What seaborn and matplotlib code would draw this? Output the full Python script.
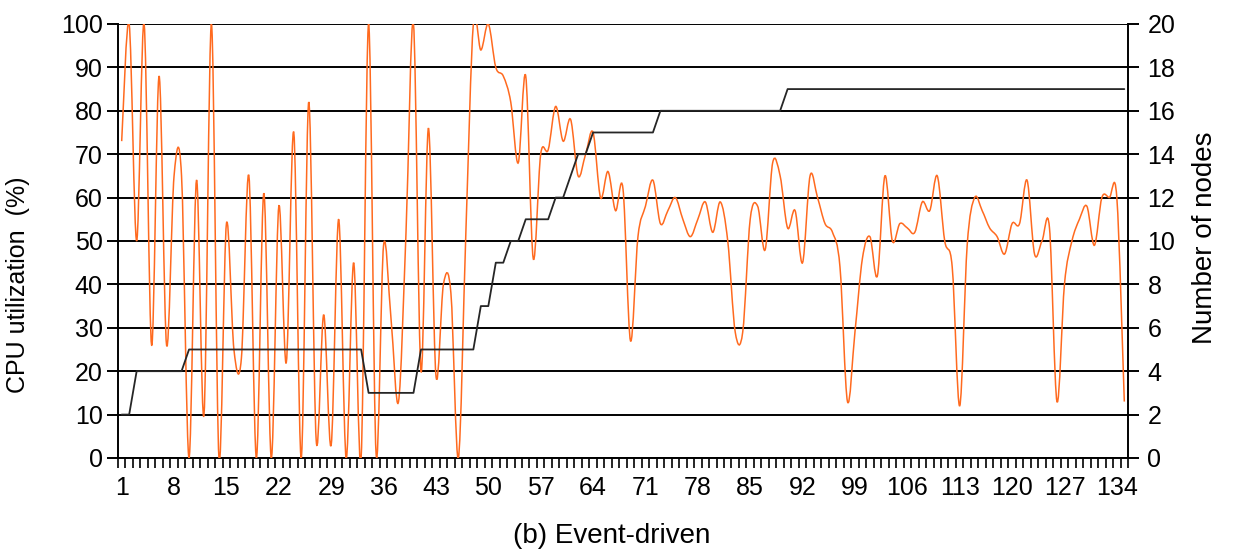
import matplotlib
matplotlib.use("Agg")
import matplotlib.pyplot as plt
import numpy as np
import seaborn as sns
from matplotlib.path import Path
from matplotlib.patches import PathPatch

# data
sample = list(range(1, 136))

cpu_util = [
    73, 100, 50, 100, 26, 88, 26, 65, 65, 0,
    64, 10, 100, 0, 54, 25, 23, 65, 0, 61,
    0, 58, 22, 75, 0, 82, 4, 33, 3, 55,
    0, 45, 0, 100, 1, 49, 32, 13, 52, 100,
    20, 76, 19, 40, 38, 0, 52, 100, 94, 100,
    90, 88, 82, 68, 88, 46, 70, 71, 81, 73,
    78, 65, 70, 75, 60, 66, 57, 62, 27, 51,
    58, 64, 54, 57, 60, 55, 51, 55, 59, 52,
    59, 50, 29, 29, 55, 58, 48, 68, 65, 53,
    57, 45, 65, 60, 54, 52, 44, 13, 29, 46,
    51, 42, 65, 50, 54, 53, 52, 59, 57, 65,
    50, 44, 12, 49, 60, 57, 53, 51, 47, 54,
    54, 64, 47, 50, 53, 13, 40, 50, 55, 58,
    49, 60, 60, 60, 13,
]

nodes = [
    2, 2, 4, 4, 4, 4, 4, 4, 4, 5,
    5, 5, 5, 5, 5, 5, 5, 5, 5, 5,
    5, 5, 5, 5, 5, 5, 5, 5, 5, 5,
    5, 5, 5, 3, 3, 3, 3, 3, 3, 3,
    5, 5, 5, 5, 5, 5, 5, 5, 7, 7,
    9, 9, 10, 10, 11, 11, 11, 11, 12, 12,
    13, 14, 14, 15, 15, 15, 15, 15, 15, 15,
    15, 15, 16, 16, 16, 16, 16, 16, 16, 16,
    16, 16, 16, 16, 16, 16, 16, 16, 16, 17,
    17, 17, 17, 17, 17, 17, 17, 17, 17, 17,
    17, 17, 17, 17, 17, 17, 17, 17, 17, 17,
    17, 17, 17, 17, 17, 17, 17, 17, 17, 17,
    17, 17, 17, 17, 17, 17, 17, 17, 17, 17,
    17, 17, 17, 17, 17,
]

xtick_labels = [1, 8, 15, 22, 29, 36, 43, 50, 57, 64, 71, 78, 85, 92, 99,
                106, 113, 120, 127, 134]


def smooth_path(x, y):
    # Excel style smoothed line: cubic bezier through every point
    x = np.asarray(x, float)
    y = np.asarray(y, float)
    n = len(x)
    verts = [(x[0], y[0])]
    codes = [Path.MOVETO]
    for i in range(n - 1):
        a = max(i - 1, 0)
        d = min(i + 2, n - 1)
        c1 = (x[i] + (x[i + 1] - x[a]) / 6, y[i] + (y[i + 1] - y[a]) / 6)
        c2 = (x[i + 1] - (x[d] - x[i]) / 6, y[i + 1] - (y[d] - y[i]) / 6)
        verts += [c1, c2, (x[i + 1], y[i + 1])]
        codes += [Path.CURVE4] * 3
    return Path(verts, codes)


sns.set_theme(style="white")
plt.rcParams["font.family"] = ["Liberation Sans", "DejaVu Sans"]

fig, ax = plt.subplots(figsize=(12.35, 5.5), dpi=100)
fig.subplots_adjust(left=0.0955, right=0.9134, top=0.9564, bottom=0.1673)
ax2 = ax.twinx()

# left axis: CPU utilization, with the black horizontal grid
ax.set_xlim(0.5, 135.5)
ax.set_ylim(0, 100)
ax.set_yticks(range(0, 101, 10))
ax.yaxis.grid(True, color="black", lw=1.4)
ax.xaxis.grid(False)
ax.add_patch(PathPatch(smooth_path(sample, cpu_util), fill=False,
                       edgecolor="#ff6a1f", lw=1.1, zorder=3))

# right axis: number of nodes
sns.lineplot(x=sample, y=nodes, ax=ax2, color="#262626", lw=1.3)
ax2.set_ylim(0, 20)
ax2.set_yticks(range(0, 21, 2))
ax2.grid(False)

# x ticks: a tick mark per category, labels every 7
ax.set_xticks(xtick_labels)
ax.set_xticklabels([str(v) for v in xtick_labels])
ax.set_xticks(np.arange(0.5, 136, 1), minor=True)
ax.tick_params(axis="x", which="major", bottom=False, length=0, pad=13,
               labelsize=18, colors="black")
ax.tick_params(axis="x", which="minor", bottom=True, length=7, width=1.2,
               direction="out", color="black")
ax.tick_params(axis="y", length=8, width=1.4, direction="out", left=True,
               labelsize=18, colors="black", pad=3)
ax2.tick_params(axis="y", length=8, width=1.4, direction="out", right=True,
                labelsize=18, colors="black", pad=6)

for a in (ax, ax2):
    a.spines["top"].set_visible(False)
    for s in ("left", "right", "bottom"):
        a.spines[s].set_color("black")
        a.spines[s].set_linewidth(1.4)
ax.spines["right"].set_visible(False)
ax2.spines["left"].set_visible(False)
ax2.spines["bottom"].set_visible(False)

ax.set_ylabel("CPU utilization  (%)", fontsize=18, color="black")
ax.yaxis.set_label_coords(-0.087, 0.40)
ax2.set_ylabel("Number of nodes", fontsize=20, color="black")
ax2.yaxis.set_label_coords(1.063, 0.507)
ax.set_xlabel("(b) Event-driven", fontsize=20, color="black")
ax.xaxis.set_label_coords(0.489, -0.150)

fig.savefig("out.png", dpi=100)
